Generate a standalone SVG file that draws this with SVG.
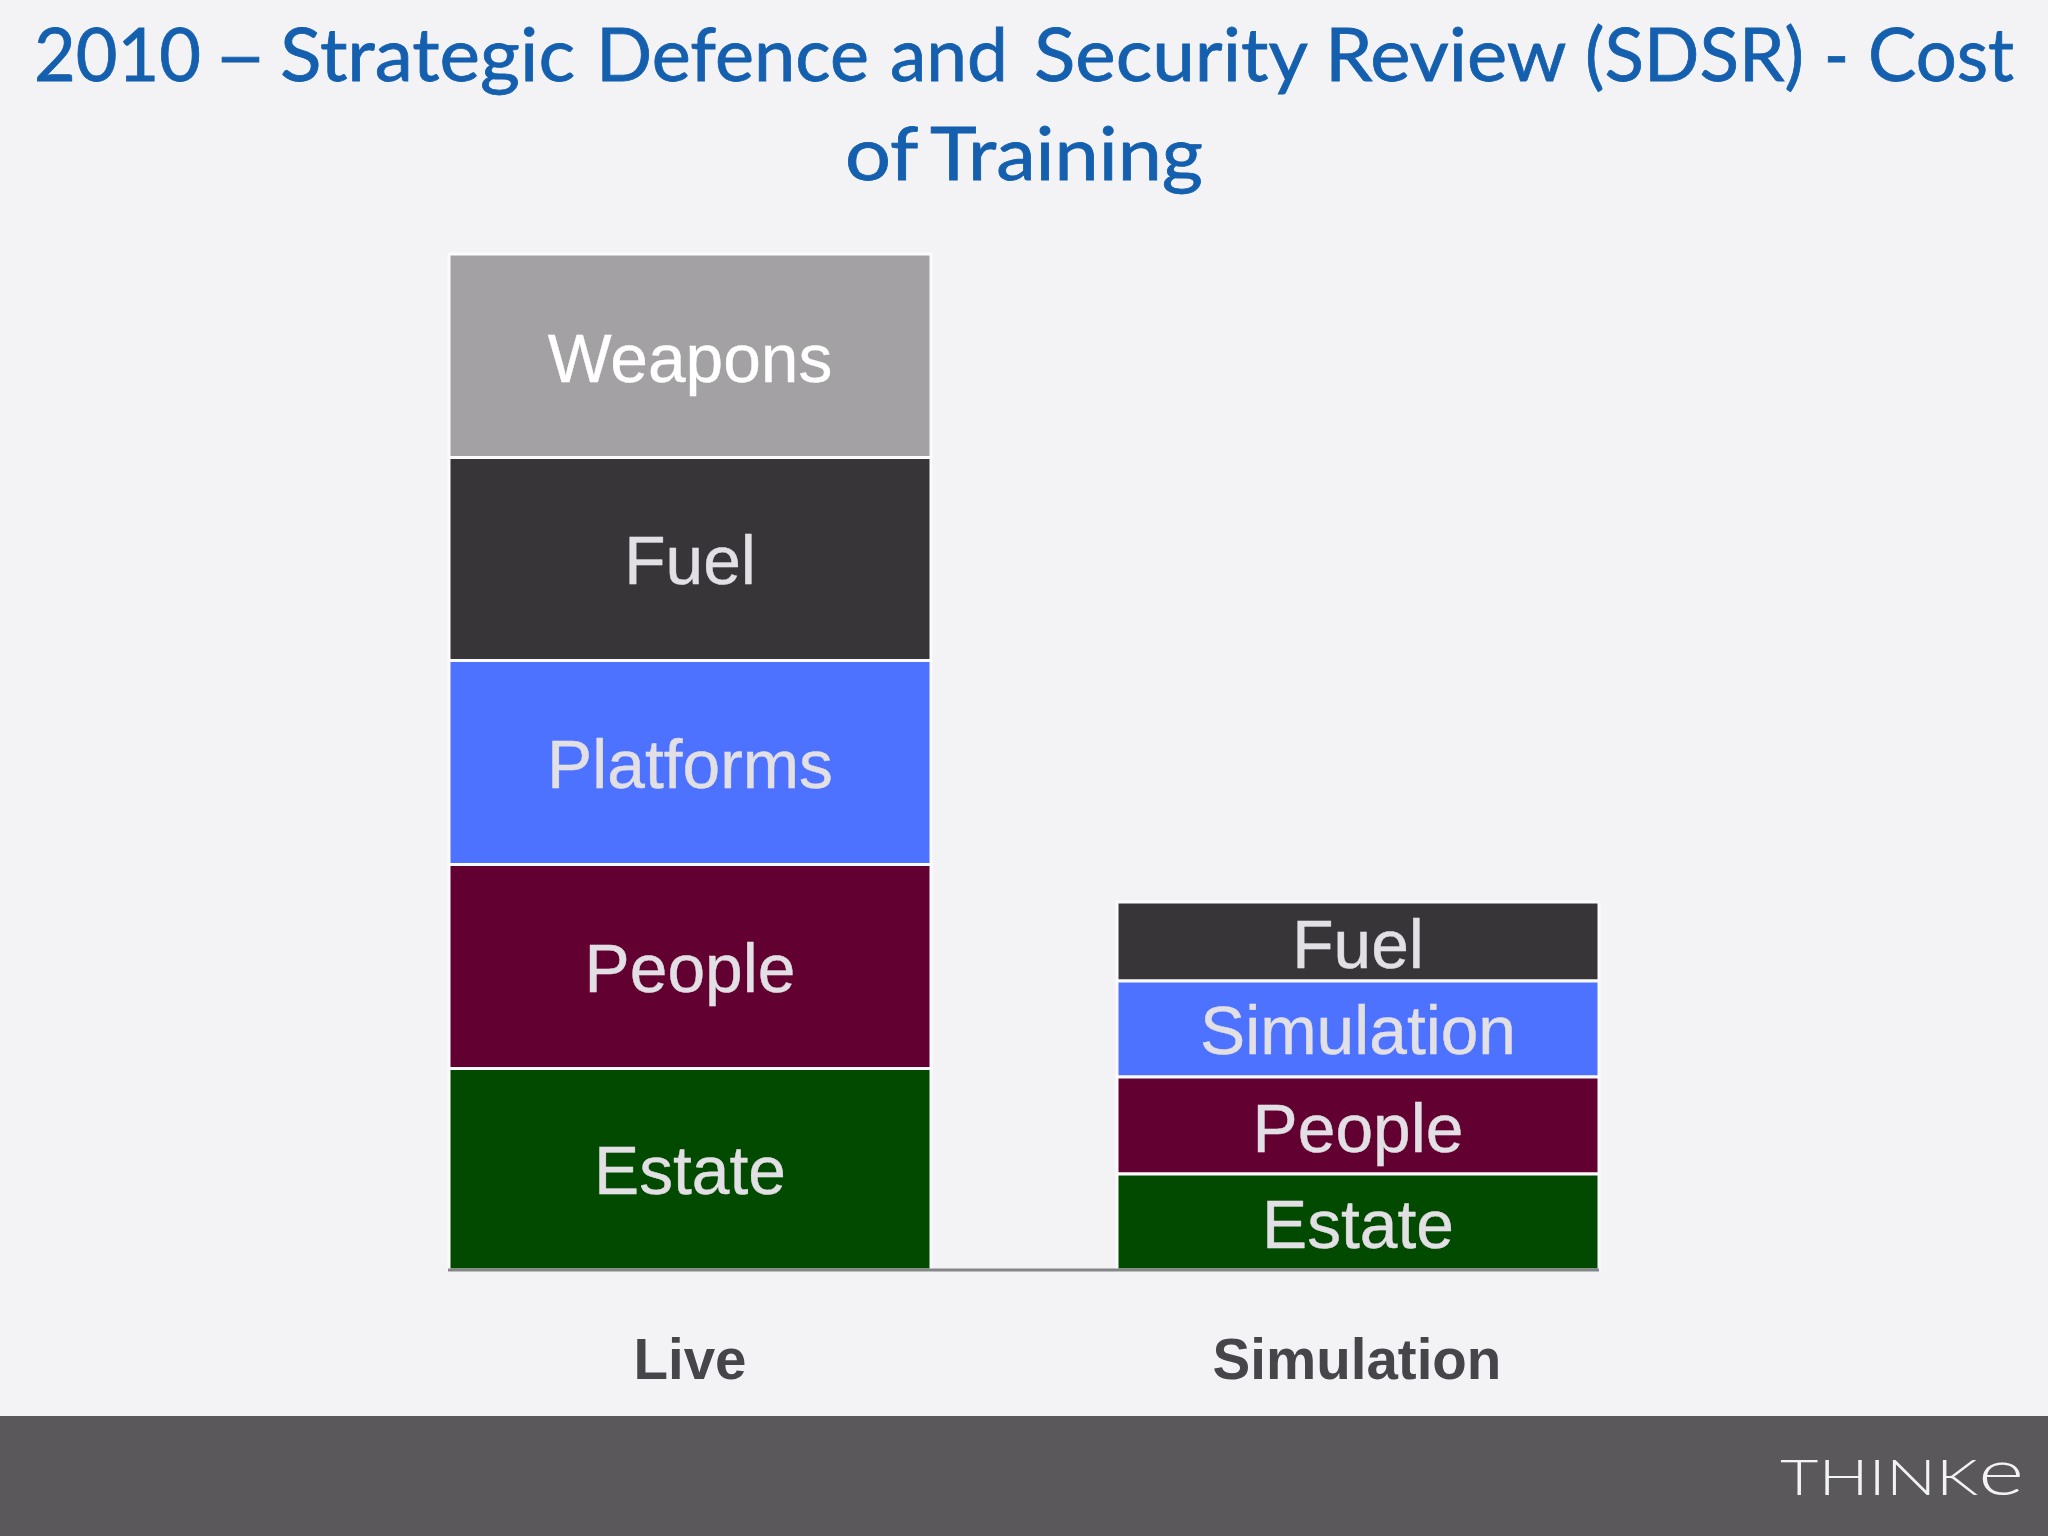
<svg xmlns="http://www.w3.org/2000/svg" width="2048" height="1536" viewBox="0 0 2048 1536">
<style>
.seg{stroke:#fbfbfd;stroke-width:3}
.lbl{font-family:"Liberation Sans",Arial,sans-serif;font-size:67.7px;text-anchor:middle;fill:#e2e0e4;stroke:#e2e0e4;stroke-width:.4}
.cat{font-family:"Liberation Sans",Arial,sans-serif;font-size:56.5px;font-weight:bold;text-anchor:middle;fill:#464549}
.title{font-family:Lato,"Open Sans",sans-serif;font-size:74px;fill:#145fae;stroke:#145fae;stroke-width:.8}
</style>
<rect width="2048" height="1536" fill="#f3f3f6"/>
<g id="title">
<text class="title" y="81"><tspan x="34" textLength="167" lengthAdjust="spacingAndGlyphs">2010</tspan> <tspan x="214" textLength="53" lengthAdjust="spacingAndGlyphs">–</tspan> <tspan x="280" textLength="295" lengthAdjust="spacingAndGlyphs">Strategic</tspan> <tspan x="596" textLength="273" lengthAdjust="spacingAndGlyphs">Defence</tspan> <tspan x="890" textLength="118" lengthAdjust="spacingAndGlyphs">and</tspan> <tspan x="1034" textLength="272" lengthAdjust="spacingAndGlyphs">Security</tspan> <tspan x="1325" textLength="240" lengthAdjust="spacingAndGlyphs">Review</tspan> <tspan x="1585" textLength="219" lengthAdjust="spacingAndGlyphs">(SDSR)</tspan> <tspan x="1824" textLength="25" lengthAdjust="spacingAndGlyphs">-</tspan> <tspan x="1868" textLength="146" lengthAdjust="spacingAndGlyphs">Cost</tspan></text>
<text class="title" y="180"><tspan x="845" textLength="72" lengthAdjust="spacingAndGlyphs">of</tspan> <tspan x="930" textLength="273" lengthAdjust="spacingAndGlyphs">Training</tspan></text>
</g>
<g id="live-weapons"><rect class="seg" x="449" y="254" width="482" height="203.5" fill="#a3a1a4"/><text class="lbl" style="fill:#fff;stroke:#fff" x="690" y="382">Weapons</text></g>
<g id="live-fuel"><rect class="seg" x="449" y="457.5" width="482" height="203" fill="#373538"/><text class="lbl" x="690" y="584">Fuel</text></g>
<g id="live-platforms"><rect class="seg" x="449" y="660.5" width="482" height="204" fill="#4d72ff"/><text class="lbl" x="690" y="788">Platforms</text></g>
<g id="live-people"><rect class="seg" x="449" y="864.5" width="482" height="204" fill="#620032"/><text class="lbl" x="690" y="992">People</text></g>
<g id="live-estate"><rect class="seg" x="449" y="1068.5" width="482" height="201.5" fill="#024a00"/><text class="lbl" x="690" y="1194">Estate</text></g>
<g id="sim-fuel"><rect class="seg" x="1117" y="902" width="482" height="79" fill="#373538"/><text class="lbl" x="1358" y="968">Fuel</text></g>
<g id="sim-simulation"><rect class="seg" x="1117" y="981" width="482" height="96" fill="#4d72ff"/><text class="lbl" x="1358" y="1054">Simulation</text></g>
<g id="sim-people"><rect class="seg" x="1117" y="1077" width="482" height="97" fill="#620032"/><text class="lbl" x="1358" y="1152">People</text></g>
<g id="sim-estate"><rect class="seg" x="1117" y="1174" width="482" height="96" fill="#024a00"/><text class="lbl" x="1358" y="1248">Estate</text></g>
<g id="axis"><line x1="448" y1="1270" x2="1599" y2="1270" stroke="#868688" stroke-width="3"/></g>
<g id="cat-live"><text class="cat" x="690" y="1379">Live</text></g>
<g id="cat-simulation"><text class="cat" x="1357" y="1379">Simulation</text></g>
<g id="footer"><rect x="0" y="1416" width="2048" height="120" fill="#5a585b"/>
<text x="1780" y="1495" font-family="Lato,sans-serif" font-weight="300" font-size="50" fill="#f3f3f5" textLength="244" lengthAdjust="spacingAndGlyphs">THINK<tspan font-size="66">e</tspan></text></g>
</svg>
